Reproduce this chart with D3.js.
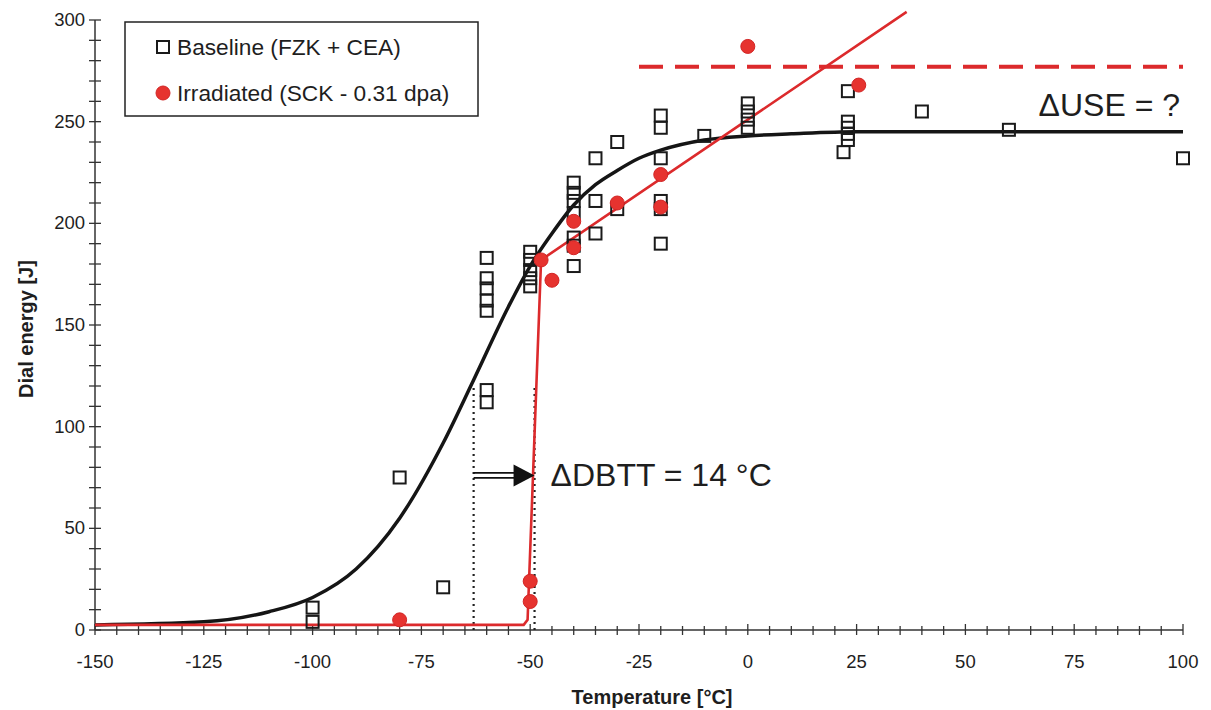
<!DOCTYPE html>
<html>
<head>
<meta charset="utf-8">
<script src="https://cdn.jsdelivr.net/npm/d3@7"></script>
<style>
  body { margin: 0; background: #fff; }
  text { font-family: "Liberation Sans", Arial, sans-serif; fill: #1e1e1e; }
</style>
</head>
<body>
<script>
// baseline (unirradiated) Charpy points
var baseTemp   = [-100, -100, -80, -70, -60, -60, -60, -60, -60, -60, -60,
                  -50, -50, -50, -50, -50, -40, -40, -40, -40, -40, -40, -40,
                  -35, -35, -35, -30, -30, -20, -20, -20, -20, -20, -20, -10,
                  0, 0, 0, 0, 22, 23, 23, 23, 23, 23, 40, 60, 100];
var baseEnergy = [11, 4, 75, 21, 183, 173, 168, 162, 157, 118, 112,
                  186, 182, 177, 173, 169, 220, 215, 211, 205, 193, 189, 179,
                  232, 211, 195, 240, 207, 253, 247, 232, 211, 207, 190, 243,
                  259, 255, 251, 247, 235, 265, 250, 247, 244, 241, 255, 246, 232];

// irradiated points
var irrTemp   = [-80, -50, -50, -47.5, -45, -40, -40, -30, -20, -20, 0, 25.5];
var irrEnergy = [5, 24, 14, 182, 172, 201, 188, 210, 224, 208, 287, 268];

// fitted baseline curve
var fitTemp   = [-150, -125, -110, -100, -90, -80, -70, -63, -55, -50, -45, -40,
                 -35, -30, -25, -20, -10, 0, 10, 25, 50, 100];
var fitEnergy = [2.5, 4, 9, 16, 30, 55, 92, 123, 159, 179, 195, 209,
                 219, 226, 232, 236, 241, 243, 244, 245, 245, 245];

// irradiated fit (bilinear)
var irrFitTemp   = [-150, -51.5, -50.6, -47.5, 0, 36.5];
var irrFitEnergy = [2.5, 2.5, 5, 182, 251, 304];

// upper shelf level guess for irradiated
var useTemp = [-25, 100];
var useEnergy = [277, 277];

var xTicks = [-150, -125, -100, -75, -50, -25, 0, 25, 50, 75, 100];
var yTicks = [0, 50, 100, 150, 200, 250, 300];

var dbttBase = -63, dbttIrr = -49, dbttLevel = 121, arrowLevel = 76;

var W = 1211, H = 710;
var margin = {top: 20, right: 28, bottom: 80, left: 95};
var width = W - margin.left - margin.right;
var height = H - margin.top - margin.bottom;

var svg = d3.select("body").append("svg")
    .attr("width", W).attr("height", H);
var g = svg.append("g")
    .attr("transform", "translate(" + margin.left + "," + margin.top + ")");

var x = d3.scaleLinear().domain([-150, 100]).range([0, width]);
var y = d3.scaleLinear().domain([0, 300]).range([height, 0]);

// axes - ticks cross the axis line
var xAxis = g.append("g").attr("transform", "translate(0," + height + ")");
xAxis.append("line").attr("x1", 0).attr("x2", width)
    .attr("stroke", "#333").attr("stroke-width", 1.5);
xAxis.selectAll(".tk").data(d3.range(-150, 101, 5)).enter().append("line")
    .attr("x1", function(d) { return x(d); }).attr("x2", function(d) { return x(d); })
    .attr("y1", function(d) { return d % 25 == 0 ? -6 : -4; })
    .attr("y2", 5)
    .attr("stroke", "#333").attr("stroke-width", 1.3);
xAxis.selectAll(".lb").data(xTicks).enter().append("text")
    .attr("x", function(d) { return x(d); })
    .attr("y", 38)
    .attr("text-anchor", "middle")
    .style("font-size", "18.5px")
    .text(function(d) { return d; });

var yAxis = g.append("g");
yAxis.append("line").attr("y1", 0).attr("y2", height)
    .attr("stroke", "#333").attr("stroke-width", 1.5);
yAxis.selectAll(".tk").data(d3.range(0, 301, 10)).enter().append("line")
    .attr("y1", function(d) { return y(d); }).attr("y2", function(d) { return y(d); })
    .attr("x1", -6).attr("x2", 6)
    .attr("stroke", "#333").attr("stroke-width", 1.3);
yAxis.selectAll(".lb").data(yTicks).enter().append("text")
    .attr("x", -10)
    .attr("y", function(d) { return y(d) + 6; })
    .attr("text-anchor", "end")
    .style("font-size", "18.5px")
    .text(function(d) { return d; });

// axis titles
svg.append("text")
    .attr("transform", "translate(33," + (margin.top + y(148)) + ") rotate(-90)")
    .attr("text-anchor", "middle")
    .style("font-size", "20px").style("font-weight", "bold")
    .text("Dial energy [J]");
svg.append("text")
    .attr("x", margin.left + x(-22)).attr("y", 704)
    .attr("text-anchor", "middle")
    .style("font-size", "20px").style("font-weight", "bold")
    .text("Temperature [°C]");

// dotted DBTT markers
[dbttBase, dbttIrr].forEach(function(t) {
  g.append("line")
    .attr("x1", x(t)).attr("x2", x(t))
    .attr("y1", y(0)).attr("y2", y(dbttLevel))
    .attr("stroke", "#222").attr("stroke-width", 2.2)
    .attr("stroke-dasharray", "2,4");
});

var line = d3.line()
    .x(function(d) { return x(d[0]); })
    .y(function(d) { return y(d[1]); });

// baseline fit
g.append("path")
    .datum(d3.zip(fitTemp, fitEnergy))
    .attr("d", line.curve(d3.curveMonotoneX))
    .attr("fill", "none").attr("stroke", "#151515").attr("stroke-width", 3.5);

// irradiated fit
g.append("path")
    .datum(d3.zip(irrFitTemp, irrFitEnergy))
    .attr("d", line.curve(d3.curveLinear))
    .attr("fill", "none").attr("stroke", "#dc2a2c").attr("stroke-width", 2.6);

// dashed USE line
g.append("path")
    .datum(d3.zip(useTemp, useEnergy))
    .attr("d", line.curve(d3.curveLinear))
    .attr("fill", "none").attr("stroke", "#dc2a2c").attr("stroke-width", 4)
    .attr("stroke-dasharray", "24,12");

// baseline squares
var sq = 12;
g.selectAll(".base").data(d3.zip(baseTemp, baseEnergy)).enter().append("rect")
    .attr("x", function(d) { return x(d[0]) - sq / 2; })
    .attr("y", function(d) { return y(d[1]) - sq / 2; })
    .attr("width", sq).attr("height", sq)
    .attr("fill", "none").attr("stroke", "#1a1a1a").attr("stroke-width", 2);

// irradiated circles
g.selectAll(".irr").data(d3.zip(irrTemp, irrEnergy)).enter().append("circle")
    .attr("cx", function(d) { return x(d[0]); })
    .attr("cy", function(d) { return y(d[1]); })
    .attr("r", 7)
    .attr("fill", "#e6332f").attr("stroke", "#d22525").attr("stroke-width", 1);

// DBTT shift arrow (double shaft)
var ay = y(arrowLevel);
var ax0 = x(dbttBase), ax1 = x(dbttIrr) - 21, ax2 = x(dbttIrr);
[-2.5, 2.5].forEach(function(o) {
  g.append("line").attr("x1", ax0).attr("x2", ax1 + 2)
    .attr("y1", ay + o).attr("y2", ay + o)
    .attr("stroke", "#111").attr("stroke-width", 1.8);
});
g.append("path")
    .attr("d", "M" + ax1 + "," + (ay - 11) + "L" + ax2 + "," + ay + "L" + ax1 + "," + (ay + 11) + "Z")
    .attr("fill", "#111");

// annotations
g.append("text")
    .attr("x", x(dbttIrr) + 16).attr("y", ay + 11)
    .style("font-size", "32px")
    .text("ΔDBTT = 14 °C");

g.append("text")
    .attr("x", x(100) - 3).attr("y", y(253))
    .attr("text-anchor", "end")
    .style("font-size", "32px")
    .text("ΔUSE = ?");

// legend
var lg = svg.append("g").attr("transform", "translate(125,22)");
lg.append("rect").attr("width", 353).attr("height", 94)
    .attr("fill", "#fff").attr("stroke", "#222").attr("stroke-width", 1.5);
lg.append("rect").attr("x", 32).attr("y", 19).attr("width", 12).attr("height", 12)
    .attr("fill", "none").attr("stroke", "#1a1a1a").attr("stroke-width", 2);
lg.append("text").attr("x", 52).attr("y", 33)
    .style("font-size", "22.7px").text("Baseline (FZK + CEA)");
lg.append("circle").attr("cx", 38).attr("cy", 71).attr("r", 7)
    .attr("fill", "#e6332f").attr("stroke", "#d22525");
lg.append("text").attr("x", 52).attr("y", 79)
    .style("font-size", "22.7px").text("Irradiated (SCK - 0.31 dpa)");
</script>
</body>
</html>
